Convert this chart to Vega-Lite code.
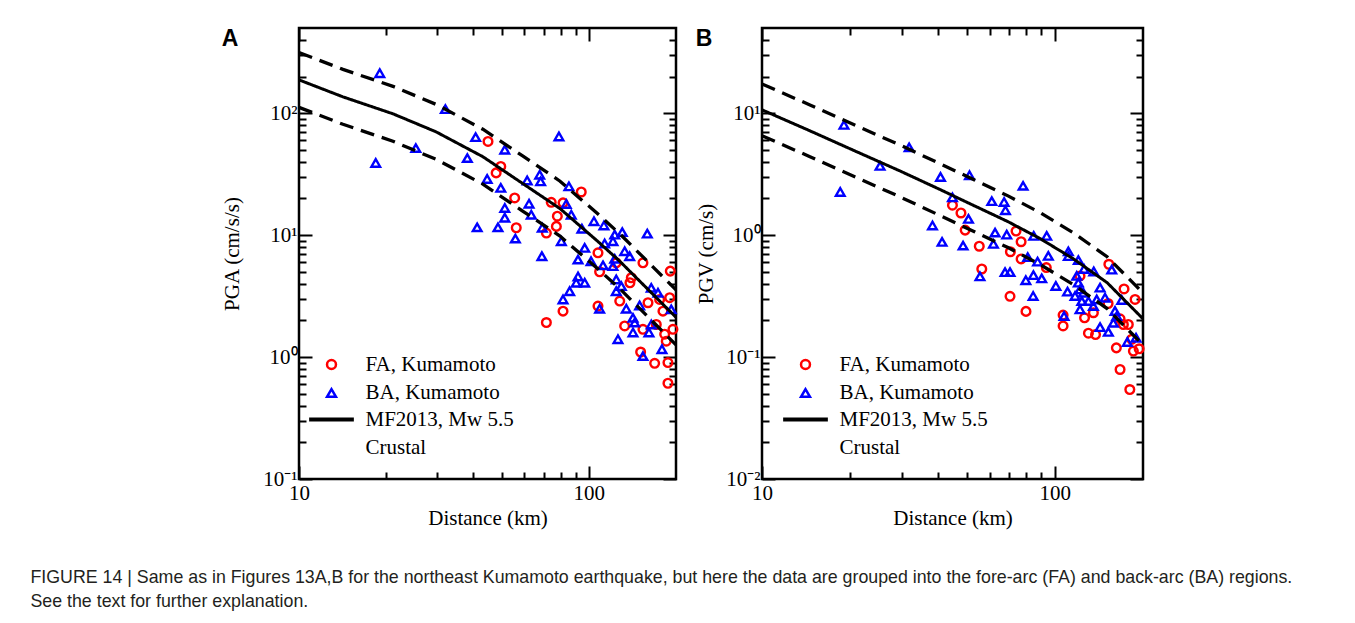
{
  "$schema": "https://vega.github.io/schema/vega-lite/v6.json",
  "background": "white",
  "padding": {"left": 30, "top": 25, "right": 0, "bottom": 0},
  "config": {
    "view": {"stroke": "#000", "strokeWidth": 2.5},
    "axis": {
      "labelFont": "Liberation Serif", "labelFontSize": 21, "labelColor": "#000",
      "titleFont": "Liberation Serif", "titleFontSize": 21, "titleFontWeight": "normal", "titleColor": "#000",
      "domain": false, "tickColor": "#000", "tickWidth": 2,
      "grid": false, "labelFlush": false, "labelOverlap": false, "labelBound": false
    }
  },
  "title": {
    "text": ["FIGURE 14 | Same as in Figures 13A,B for the northeast Kumamoto earthquake, but here the data are grouped into the fore-arc (FA) and back-arc (BA) regions.", "See the text for further explanation."],
    "orient": "bottom", "anchor": "start", "frame": "bounds",
    "font": "Liberation Sans", "fontSize": 17.8, "fontWeight": "normal", "color": "#231f20",
    "lineHeight": 24, "offset": 40, "dx": -190
  },
  "datasets": {
    "ptsA": [
      {"d": 44.9, "v": 58.7, "series": "FA, Kumamoto"},
      {"d": 49.7, "v": 36.6, "series": "FA, Kumamoto"},
      {"d": 47.9, "v": 32.4, "series": "FA, Kumamoto"},
      {"d": 55.5, "v": 20.2, "series": "FA, Kumamoto"},
      {"d": 56.2, "v": 11.5, "series": "FA, Kumamoto"},
      {"d": 74.2, "v": 18.6, "series": "FA, Kumamoto"},
      {"d": 81.5, "v": 18.4, "series": "FA, Kumamoto"},
      {"d": 77.9, "v": 14.3, "series": "FA, Kumamoto"},
      {"d": 77.3, "v": 11.8, "series": "FA, Kumamoto"},
      {"d": 71.4, "v": 10.4, "series": "FA, Kumamoto"},
      {"d": 94.2, "v": 22.6, "series": "FA, Kumamoto"},
      {"d": 107.6, "v": 7.16, "series": "FA, Kumamoto"},
      {"d": 124.4, "v": 5.93, "series": "FA, Kumamoto"},
      {"d": 153.8, "v": 5.93, "series": "FA, Kumamoto"},
      {"d": 191.1, "v": 5.07, "series": "FA, Kumamoto"},
      {"d": 109.0, "v": 5.01, "series": "FA, Kumamoto"},
      {"d": 140.2, "v": 4.47, "series": "FA, Kumamoto"},
      {"d": 138.7, "v": 4.07, "series": "FA, Kumamoto"},
      {"d": 190.2, "v": 3.07, "series": "FA, Kumamoto"},
      {"d": 175.6, "v": 2.97, "series": "FA, Kumamoto"},
      {"d": 160.1, "v": 2.79, "series": "FA, Kumamoto"},
      {"d": 127.9, "v": 2.88, "series": "FA, Kumamoto"},
      {"d": 107.6, "v": 2.62, "series": "FA, Kumamoto"},
      {"d": 81.5, "v": 2.38, "series": "FA, Kumamoto"},
      {"d": 180.3, "v": 2.38, "series": "FA, Kumamoto"},
      {"d": 71.4, "v": 1.92, "series": "FA, Kumamoto"},
      {"d": 133.0, "v": 1.80, "series": "FA, Kumamoto"},
      {"d": 153.8, "v": 1.69, "series": "FA, Kumamoto"},
      {"d": 171.0, "v": 1.85, "series": "FA, Kumamoto"},
      {"d": 195.2, "v": 1.69, "series": "FA, Kumamoto"},
      {"d": 182.8, "v": 1.54, "series": "FA, Kumamoto"},
      {"d": 185.1, "v": 1.35, "series": "FA, Kumamoto"},
      {"d": 151.0, "v": 1.10, "series": "FA, Kumamoto"},
      {"d": 168.8, "v": 0.889, "series": "FA, Kumamoto"},
      {"d": 187.6, "v": 0.902, "series": "FA, Kumamoto"},
      {"d": 187.6, "v": 0.610, "series": "FA, Kumamoto"},
      {"d": 19.0, "v": 213, "series": "BA, Kumamoto"},
      {"d": 18.4, "v": 39.1, "series": "BA, Kumamoto"},
      {"d": 32.0, "v": 108, "series": "BA, Kumamoto"},
      {"d": 25.3, "v": 51.8, "series": "BA, Kumamoto"},
      {"d": 40.7, "v": 63.7, "series": "BA, Kumamoto"},
      {"d": 38.1, "v": 42.9, "series": "BA, Kumamoto"},
      {"d": 51.3, "v": 50.2, "series": "BA, Kumamoto"},
      {"d": 44.6, "v": 28.9, "series": "BA, Kumamoto"},
      {"d": 49.7, "v": 24.4, "series": "BA, Kumamoto"},
      {"d": 78.9, "v": 64.5, "series": "BA, Kumamoto"},
      {"d": 61.3, "v": 28.1, "series": "BA, Kumamoto"},
      {"d": 67.7, "v": 31.3, "series": "BA, Kumamoto"},
      {"d": 68.2, "v": 27.6, "series": "BA, Kumamoto"},
      {"d": 85.4, "v": 25.1, "series": "BA, Kumamoto"},
      {"d": 62.2, "v": 18.1, "series": "BA, Kumamoto"},
      {"d": 51.3, "v": 16.7, "series": "BA, Kumamoto"},
      {"d": 51.3, "v": 13.9, "series": "BA, Kumamoto"},
      {"d": 63.3, "v": 14.7, "series": "BA, Kumamoto"},
      {"d": 83.6, "v": 18.0, "series": "BA, Kumamoto"},
      {"d": 87.0, "v": 14.7, "series": "BA, Kumamoto"},
      {"d": 41.2, "v": 11.6, "series": "BA, Kumamoto"},
      {"d": 48.6, "v": 11.6, "series": "BA, Kumamoto"},
      {"d": 55.8, "v": 9.38, "series": "BA, Kumamoto"},
      {"d": 69.1, "v": 11.5, "series": "BA, Kumamoto"},
      {"d": 80.4, "v": 8.91, "series": "BA, Kumamoto"},
      {"d": 94.7, "v": 11.3, "series": "BA, Kumamoto"},
      {"d": 104.2, "v": 13.0, "series": "BA, Kumamoto"},
      {"d": 112.8, "v": 12.0, "series": "BA, Kumamoto"},
      {"d": 122.9, "v": 10.1, "series": "BA, Kumamoto"},
      {"d": 130.5, "v": 10.6, "series": "BA, Kumamoto"},
      {"d": 159.2, "v": 10.3, "series": "BA, Kumamoto"},
      {"d": 121.2, "v": 8.91, "series": "BA, Kumamoto"},
      {"d": 113.4, "v": 8.54, "series": "BA, Kumamoto"},
      {"d": 96.8, "v": 7.87, "series": "BA, Kumamoto"},
      {"d": 133.0, "v": 7.38, "series": "BA, Kumamoto"},
      {"d": 138.4, "v": 6.72, "series": "BA, Kumamoto"},
      {"d": 68.9, "v": 6.72, "series": "BA, Kumamoto"},
      {"d": 91.8, "v": 6.31, "series": "BA, Kumamoto"},
      {"d": 101.8, "v": 6.11, "series": "BA, Kumamoto"},
      {"d": 122.9, "v": 6.40, "series": "BA, Kumamoto"},
      {"d": 112.0, "v": 5.66, "series": "BA, Kumamoto"},
      {"d": 121.2, "v": 5.57, "series": "BA, Kumamoto"},
      {"d": 91.8, "v": 4.58, "series": "BA, Kumamoto"},
      {"d": 90.5, "v": 4.07, "series": "BA, Kumamoto"},
      {"d": 96.8, "v": 4.07, "series": "BA, Kumamoto"},
      {"d": 85.9, "v": 3.47, "series": "BA, Kumamoto"},
      {"d": 81.5, "v": 2.97, "series": "BA, Kumamoto"},
      {"d": 124.4, "v": 4.33, "series": "BA, Kumamoto"},
      {"d": 129.5, "v": 3.82, "series": "BA, Kumamoto"},
      {"d": 124.4, "v": 3.47, "series": "BA, Kumamoto"},
      {"d": 164.3, "v": 3.70, "series": "BA, Kumamoto"},
      {"d": 173.3, "v": 3.37, "series": "BA, Kumamoto"},
      {"d": 109.0, "v": 2.49, "series": "BA, Kumamoto"},
      {"d": 149.8, "v": 2.65, "series": "BA, Kumamoto"},
      {"d": 134.7, "v": 2.49, "series": "BA, Kumamoto"},
      {"d": 192.6, "v": 2.46, "series": "BA, Kumamoto"},
      {"d": 142.1, "v": 2.10, "series": "BA, Kumamoto"},
      {"d": 144.0, "v": 1.92, "series": "BA, Kumamoto"},
      {"d": 164.3, "v": 1.85, "series": "BA, Kumamoto"},
      {"d": 142.1, "v": 1.59, "series": "BA, Kumamoto"},
      {"d": 161.3, "v": 1.59, "series": "BA, Kumamoto"},
      {"d": 126.1, "v": 1.40, "series": "BA, Kumamoto"},
      {"d": 178.9, "v": 1.16, "series": "BA, Kumamoto"},
      {"d": 153.8, "v": 1.02, "series": "BA, Kumamoto"}
    ],
    "ptsB": [
      {"d": 44.7, "v": 1.76, "series": "FA, Kumamoto"},
      {"d": 47.8, "v": 1.52, "series": "FA, Kumamoto"},
      {"d": 49.4, "v": 1.10, "series": "FA, Kumamoto"},
      {"d": 55.2, "v": 0.811, "series": "FA, Kumamoto"},
      {"d": 56.3, "v": 0.528, "series": "FA, Kumamoto"},
      {"d": 73.7, "v": 1.08, "series": "FA, Kumamoto"},
      {"d": 76.7, "v": 0.883, "series": "FA, Kumamoto"},
      {"d": 70.5, "v": 0.731, "series": "FA, Kumamoto"},
      {"d": 76.7, "v": 0.638, "series": "FA, Kumamoto"},
      {"d": 93.5, "v": 0.542, "series": "FA, Kumamoto"},
      {"d": 152.9, "v": 0.577, "series": "FA, Kumamoto"},
      {"d": 70.3, "v": 0.315, "series": "FA, Kumamoto"},
      {"d": 79.7, "v": 0.237, "series": "FA, Kumamoto"},
      {"d": 106.7, "v": 0.221, "series": "FA, Kumamoto"},
      {"d": 106.7, "v": 0.180, "series": "FA, Kumamoto"},
      {"d": 121.9, "v": 0.463, "series": "FA, Kumamoto"},
      {"d": 126.3, "v": 0.210, "series": "FA, Kumamoto"},
      {"d": 130.2, "v": 0.157, "series": "FA, Kumamoto"},
      {"d": 135.4, "v": 0.231, "series": "FA, Kumamoto"},
      {"d": 137.7, "v": 0.153, "series": "FA, Kumamoto"},
      {"d": 152.0, "v": 0.275, "series": "FA, Kumamoto"},
      {"d": 172.3, "v": 0.362, "series": "FA, Kumamoto"},
      {"d": 187.9, "v": 0.297, "series": "FA, Kumamoto"},
      {"d": 167.0, "v": 0.206, "series": "FA, Kumamoto"},
      {"d": 171.4, "v": 0.185, "series": "FA, Kumamoto"},
      {"d": 178.2, "v": 0.185, "series": "FA, Kumamoto"},
      {"d": 162.2, "v": 0.119, "series": "FA, Kumamoto"},
      {"d": 183.1, "v": 0.140, "series": "FA, Kumamoto"},
      {"d": 185.4, "v": 0.112, "series": "FA, Kumamoto"},
      {"d": 194.0, "v": 0.117, "series": "FA, Kumamoto"},
      {"d": 167.0, "v": 0.0791, "series": "FA, Kumamoto"},
      {"d": 180.3, "v": 0.0542, "series": "FA, Kumamoto"},
      {"d": 19.05, "v": 8.03, "series": "BA, Kumamoto"},
      {"d": 18.5, "v": 2.26, "series": "BA, Kumamoto"},
      {"d": 25.3, "v": 3.70, "series": "BA, Kumamoto"},
      {"d": 31.8, "v": 5.25, "series": "BA, Kumamoto"},
      {"d": 40.7, "v": 3.00, "series": "BA, Kumamoto"},
      {"d": 51.1, "v": 3.10, "series": "BA, Kumamoto"},
      {"d": 77.9, "v": 2.54, "series": "BA, Kumamoto"},
      {"d": 44.7, "v": 2.04, "series": "BA, Kumamoto"},
      {"d": 60.9, "v": 1.90, "series": "BA, Kumamoto"},
      {"d": 67.1, "v": 1.87, "series": "BA, Kumamoto"},
      {"d": 67.8, "v": 1.60, "series": "BA, Kumamoto"},
      {"d": 50.7, "v": 1.36, "series": "BA, Kumamoto"},
      {"d": 38.2, "v": 1.20, "series": "BA, Kumamoto"},
      {"d": 41.2, "v": 0.881, "series": "BA, Kumamoto"},
      {"d": 48.6, "v": 0.822, "series": "BA, Kumamoto"},
      {"d": 62.5, "v": 1.05, "series": "BA, Kumamoto"},
      {"d": 68.5, "v": 1.01, "series": "BA, Kumamoto"},
      {"d": 61.7, "v": 0.848, "series": "BA, Kumamoto"},
      {"d": 84.7, "v": 0.986, "series": "BA, Kumamoto"},
      {"d": 93.8, "v": 0.986, "series": "BA, Kumamoto"},
      {"d": 80.8, "v": 0.660, "series": "BA, Kumamoto"},
      {"d": 87.3, "v": 0.607, "series": "BA, Kumamoto"},
      {"d": 95.0, "v": 0.676, "series": "BA, Kumamoto"},
      {"d": 111.2, "v": 0.736, "series": "BA, Kumamoto"},
      {"d": 111.2, "v": 0.673, "series": "BA, Kumamoto"},
      {"d": 120.3, "v": 0.624, "series": "BA, Kumamoto"},
      {"d": 125.8, "v": 0.528, "series": "BA, Kumamoto"},
      {"d": 135.8, "v": 0.504, "series": "BA, Kumamoto"},
      {"d": 156.4, "v": 0.521, "series": "BA, Kumamoto"},
      {"d": 55.5, "v": 0.459, "series": "BA, Kumamoto"},
      {"d": 67.6, "v": 0.497, "series": "BA, Kumamoto"},
      {"d": 70.3, "v": 0.497, "series": "BA, Kumamoto"},
      {"d": 79.6, "v": 0.427, "series": "BA, Kumamoto"},
      {"d": 84.5, "v": 0.470, "series": "BA, Kumamoto"},
      {"d": 90.2, "v": 0.442, "series": "BA, Kumamoto"},
      {"d": 84.3, "v": 0.317, "series": "BA, Kumamoto"},
      {"d": 100.8, "v": 0.383, "series": "BA, Kumamoto"},
      {"d": 110.5, "v": 0.344, "series": "BA, Kumamoto"},
      {"d": 118.8, "v": 0.463, "series": "BA, Kumamoto"},
      {"d": 120.3, "v": 0.408, "series": "BA, Kumamoto"},
      {"d": 121.9, "v": 0.359, "series": "BA, Kumamoto"},
      {"d": 117.2, "v": 0.317, "series": "BA, Kumamoto"},
      {"d": 125.1, "v": 0.337, "series": "BA, Kumamoto"},
      {"d": 123.6, "v": 0.288, "series": "BA, Kumamoto"},
      {"d": 130.2, "v": 0.288, "series": "BA, Kumamoto"},
      {"d": 135.4, "v": 0.262, "series": "BA, Kumamoto"},
      {"d": 121.9, "v": 0.246, "series": "BA, Kumamoto"},
      {"d": 139.0, "v": 0.297, "series": "BA, Kumamoto"},
      {"d": 142.7, "v": 0.371, "series": "BA, Kumamoto"},
      {"d": 148.4, "v": 0.307, "series": "BA, Kumamoto"},
      {"d": 169.2, "v": 0.294, "series": "BA, Kumamoto"},
      {"d": 160.5, "v": 0.239, "series": "BA, Kumamoto"},
      {"d": 162.7, "v": 0.217, "series": "BA, Kumamoto"},
      {"d": 158.4, "v": 0.191, "series": "BA, Kumamoto"},
      {"d": 142.7, "v": 0.176, "series": "BA, Kumamoto"},
      {"d": 152.3, "v": 0.161, "series": "BA, Kumamoto"},
      {"d": 107.5, "v": 0.217, "series": "BA, Kumamoto"},
      {"d": 176.9, "v": 0.133, "series": "BA, Kumamoto"},
      {"d": 189.3, "v": 0.144, "series": "BA, Kumamoto"}
    ],
    "curveA": [
      {"d": 10, "v": 187.7, "curve": "median"},
      {"d": 14.18, "v": 136.2, "curve": "median"},
      {"d": 21.1, "v": 98.9, "curve": "median"},
      {"d": 29.7, "v": 70.4, "curve": "median"},
      {"d": 43.1, "v": 44.0, "curve": "median"},
      {"d": 59.3, "v": 26.4, "curve": "median"},
      {"d": 79.6, "v": 16.5, "curve": "median"},
      {"d": 107.6, "v": 8.86, "curve": "median"},
      {"d": 128.2, "v": 6.08, "curve": "median"},
      {"d": 160.1, "v": 3.59, "curve": "median"},
      {"d": 200, "v": 2.12, "curve": "median"},
      {"d": 10, "v": 315.3, "curve": "upper"},
      {"d": 14.18, "v": 228.8, "curve": "upper"},
      {"d": 21.1, "v": 166.2, "curve": "upper"},
      {"d": 29.7, "v": 118.3, "curve": "upper"},
      {"d": 43.1, "v": 73.9, "curve": "upper"},
      {"d": 59.3, "v": 44.4, "curve": "upper"},
      {"d": 79.6, "v": 27.7, "curve": "upper"},
      {"d": 107.6, "v": 14.9, "curve": "upper"},
      {"d": 128.2, "v": 10.2, "curve": "upper"},
      {"d": 160.1, "v": 6.03, "curve": "upper"},
      {"d": 200, "v": 3.56, "curve": "upper"},
      {"d": 10, "v": 111.7, "curve": "lower"},
      {"d": 14.18, "v": 81.1, "curve": "lower"},
      {"d": 21.1, "v": 58.9, "curve": "lower"},
      {"d": 29.7, "v": 41.9, "curve": "lower"},
      {"d": 43.1, "v": 26.2, "curve": "lower"},
      {"d": 59.3, "v": 15.7, "curve": "lower"},
      {"d": 79.6, "v": 9.82, "curve": "lower"},
      {"d": 107.6, "v": 5.27, "curve": "lower"},
      {"d": 128.2, "v": 3.62, "curve": "lower"},
      {"d": 160.1, "v": 2.14, "curve": "lower"},
      {"d": 200, "v": 1.26, "curve": "lower"}
    ],
    "curveB": [
      {"d": 10, "v": 10.66, "curve": "median"},
      {"d": 14.58, "v": 7.17, "curve": "median"},
      {"d": 21.1, "v": 4.82, "curve": "median"},
      {"d": 29.6, "v": 3.36, "curve": "median"},
      {"d": 40.5, "v": 2.37, "curve": "median"},
      {"d": 53.4, "v": 1.73, "curve": "median"},
      {"d": 69.2, "v": 1.29, "curve": "median"},
      {"d": 89.0, "v": 0.938, "curve": "median"},
      {"d": 115.4, "v": 0.642, "curve": "median"},
      {"d": 150.8, "v": 0.408, "curve": "median"},
      {"d": 200, "v": 0.206, "curve": "median"},
      {"d": 10, "v": 17.38, "curve": "upper"},
      {"d": 14.58, "v": 11.69, "curve": "upper"},
      {"d": 21.1, "v": 7.86, "curve": "upper"},
      {"d": 29.6, "v": 5.48, "curve": "upper"},
      {"d": 40.5, "v": 3.86, "curve": "upper"},
      {"d": 53.4, "v": 2.82, "curve": "upper"},
      {"d": 69.2, "v": 2.10, "curve": "upper"},
      {"d": 89.0, "v": 1.53, "curve": "upper"},
      {"d": 115.4, "v": 1.05, "curve": "upper"},
      {"d": 150.8, "v": 0.665, "curve": "upper"},
      {"d": 200, "v": 0.336, "curve": "upper"},
      {"d": 10, "v": 6.54, "curve": "lower"},
      {"d": 14.58, "v": 4.40, "curve": "lower"},
      {"d": 21.1, "v": 2.96, "curve": "lower"},
      {"d": 29.6, "v": 2.06, "curve": "lower"},
      {"d": 40.5, "v": 1.45, "curve": "lower"},
      {"d": 53.4, "v": 1.06, "curve": "lower"},
      {"d": 69.2, "v": 0.791, "curve": "lower"},
      {"d": 89.0, "v": 0.575, "curve": "lower"},
      {"d": 115.4, "v": 0.394, "curve": "lower"},
      {"d": 150.8, "v": 0.250, "curve": "lower"},
      {"d": 200, "v": 0.126, "curve": "lower"}
    ]
  },
  "spacing": 10,
  "resolve": {
    "scale": {"x": "independent", "y": "independent", "color": "independent", "shape": "independent", "strokeDash": "independent"},
    "legend": {"color": "independent", "shape": "independent", "strokeDash": "independent"}
  },
  "hconcat": [
    {
      "width": 377, "height": 451,
      "title": {"text": "A", "anchor": "start", "frame": "bounds", "font": "Liberation Sans", "fontSize": 23, "fontWeight": "bold", "color": "#000", "offset": 0, "dy": 24},
      "resolve": {"axis": {"x": "independent", "y": "independent"}},
      "layer": [
        {
          "data": {"name": "ptsA"},
          "mark": {"type": "point", "filled": false, "strokeWidth": 2.4, "size": 75, "opacity": 1},
          "encoding": {
            "x": {"field": "d", "type": "quantitative", "scale": {"type": "log", "domain": [10, 200], "nice": false},
              "axis": {"orient": "bottom", "values": [10, 100], "offset": -13, "tickSize": 13, "labelPadding": 3, "labelExpr": "datum.value == 10 ? '10' : '100'", "title": "Distance (km)", "titlePadding": 4}},
            "y": {"field": "v", "type": "quantitative", "scale": {"type": "log", "domain": [0.1, 500], "nice": false},
              "axis": {"orient": "left", "values": [0.1, 1, 10, 100], "offset": -13, "tickSize": 13, "labelPadding": 2, "labelExpr": "datum.value == 0.1 ? '10⁻¹' : datum.value == 1 ? '10⁰' : datum.value == 10 ? '10¹' : '10²'", "title": "PGA (cm/s/s)", "titlePadding": 20}},
            "color": {"field": "series", "type": "nominal", "scale": {"domain": ["FA, Kumamoto", "BA, Kumamoto"], "range": ["#ff0000", "#0000ff"]},
              "legend": {"orient": "none", "legendX": 22, "legendY": 326, "title": null, "symbolSize": 80, "symbolStrokeWidth": 2.5, "labelOffset": 23.5, "rowPadding": 6.5, "padding": 0, "labelFont": "Liberation Serif", "labelFontSize": 21, "labelColor": "#000", "labelLimit": 400}},
            "shape": {"field": "series", "type": "nominal", "scale": {"domain": ["FA, Kumamoto", "BA, Kumamoto"], "range": ["circle", "triangle-up"]},
              "legend": {"orient": "none", "legendX": 22, "legendY": 326, "title": null, "symbolSize": 80, "symbolStrokeWidth": 2.5, "labelOffset": 23.5, "rowPadding": 6.5, "padding": 0, "labelFont": "Liberation Serif", "labelFontSize": 21, "labelColor": "#000", "labelLimit": 400}}
          }
        },
        {
          "data": {"name": "curveA"},
          "transform": [{"filter": "datum.curve == 'median'"}],
          "mark": {"type": "line", "color": "#000", "strokeWidth": 3},
          "encoding": {
            "x": {"field": "d", "type": "quantitative", "axis": {"orient": "top", "values": [10, 100], "offset": -13, "tickSize": 13, "labels": false, "title": null}},
            "y": {"field": "v", "type": "quantitative", "axis": {"orient": "right", "values": [0.1, 1, 10, 100], "offset": -13, "tickSize": 13, "labels": false, "title": null}},
            "strokeDash": {"field": "curve", "type": "nominal", "scale": {"domain": ["median", "note"], "range": [[1, 0], [0, 1000]]},
              "legend": {"orient": "none", "legendX": 8, "legendY": 381, "title": null, "symbolType": "stroke", "symbolSize": 2000, "symbolStrokeWidth": 4, "symbolStrokeColor": "#000", "clipHeight": 21, "labelOffset": 9.5, "rowPadding": 6.5, "padding": 0, "labelFont": "Liberation Serif", "labelFontSize": 21, "labelColor": "#000", "labelLimit": 400, "labelExpr": "datum.value == 'median' ? 'MF2013, Mw 5.5' : 'Crustal'"}}
          }
        },
        {
          "data": {"name": "curveA"},
          "transform": [{"filter": "datum.curve == 'upper'"}],
          "mark": {"type": "line", "color": "#000", "strokeWidth": 3.3, "strokeDash": [14, 8]},
          "encoding": {
            "x": {"field": "d", "type": "quantitative", "axis": {"orient": "bottom", "values": [20, 30, 40, 50, 60, 70, 80, 90], "offset": -7, "tickSize": 7, "labels": false, "title": null}},
            "y": {"field": "v", "type": "quantitative", "axis": {"orient": "left", "values": [0.2, 0.3, 0.4, 0.5, 0.6, 0.7, 0.8, 0.9, 2, 3, 4, 5, 6, 7, 8, 9, 20, 30, 40, 50, 60, 70, 80, 90, 200, 300, 400], "offset": -7, "tickSize": 7, "labels": false, "title": null}}
          }
        },
        {
          "data": {"name": "curveA"},
          "transform": [{"filter": "datum.curve == 'lower'"}],
          "mark": {"type": "line", "color": "#000", "strokeWidth": 3.3, "strokeDash": [14, 8]},
          "encoding": {
            "x": {"field": "d", "type": "quantitative", "axis": {"orient": "top", "values": [20, 30, 40, 50, 60, 70, 80, 90], "offset": -7, "tickSize": 7, "labels": false, "title": null}},
            "y": {"field": "v", "type": "quantitative", "axis": {"orient": "right", "values": [0.2, 0.3, 0.4, 0.5, 0.6, 0.7, 0.8, 0.9, 2, 3, 4, 5, 6, 7, 8, 9, 20, 30, 40, 50, 60, 70, 80, 90, 200, 300, 400], "offset": -7, "tickSize": 7, "labels": false, "title": null}}
          }
        }
      ]
    },
    {
      "width": 381, "height": 451,
      "title": {"text": "B", "anchor": "start", "frame": "bounds", "font": "Liberation Sans", "fontSize": 23, "fontWeight": "bold", "color": "#000", "offset": 0, "dy": 24},
      "resolve": {"axis": {"x": "independent", "y": "independent"}},
      "layer": [
        {
          "data": {"name": "ptsB"},
          "mark": {"type": "point", "filled": false, "strokeWidth": 2.4, "size": 75, "opacity": 1},
          "encoding": {
            "x": {"field": "d", "type": "quantitative", "scale": {"type": "log", "domain": [10, 200], "nice": false},
              "axis": {"orient": "bottom", "values": [10, 100], "offset": -13, "tickSize": 13, "labelPadding": 3, "labelExpr": "datum.value == 10 ? '10' : '100'", "title": "Distance (km)", "titlePadding": 4}},
            "y": {"field": "v", "type": "quantitative", "scale": {"type": "log", "domain": [0.01, 50], "nice": false},
              "axis": {"orient": "left", "values": [0.01, 0.1, 1, 10], "offset": -13, "tickSize": 13, "labelPadding": 2, "labelExpr": "datum.value == 0.01 ? '10⁻²' : datum.value == 0.1 ? '10⁻¹' : datum.value == 1 ? '10⁰' : '10¹'", "title": "PGV (cm/s)", "titlePadding": 9}},
            "color": {"field": "series", "type": "nominal", "scale": {"domain": ["FA, Kumamoto", "BA, Kumamoto"], "range": ["#ff0000", "#0000ff"]},
              "legend": {"orient": "none", "legendX": 33, "legendY": 326, "title": null, "symbolSize": 80, "symbolStrokeWidth": 2.5, "labelOffset": 23.5, "rowPadding": 6.5, "padding": 0, "labelFont": "Liberation Serif", "labelFontSize": 21, "labelColor": "#000", "labelLimit": 400}},
            "shape": {"field": "series", "type": "nominal", "scale": {"domain": ["FA, Kumamoto", "BA, Kumamoto"], "range": ["circle", "triangle-up"]},
              "legend": {"orient": "none", "legendX": 33, "legendY": 326, "title": null, "symbolSize": 80, "symbolStrokeWidth": 2.5, "labelOffset": 23.5, "rowPadding": 6.5, "padding": 0, "labelFont": "Liberation Serif", "labelFontSize": 21, "labelColor": "#000", "labelLimit": 400}}
          }
        },
        {
          "data": {"name": "curveB"},
          "transform": [{"filter": "datum.curve == 'median'"}],
          "mark": {"type": "line", "color": "#000", "strokeWidth": 3},
          "encoding": {
            "x": {"field": "d", "type": "quantitative", "axis": {"orient": "top", "values": [10, 100], "offset": -13, "tickSize": 13, "labels": false, "title": null}},
            "y": {"field": "v", "type": "quantitative", "axis": {"orient": "right", "values": [0.01, 0.1, 1, 10], "offset": -13, "tickSize": 13, "labels": false, "title": null}},
            "strokeDash": {"field": "curve", "type": "nominal", "scale": {"domain": ["median", "note"], "range": [[1, 0], [0, 1000]]},
              "legend": {"orient": "none", "legendX": 19, "legendY": 381, "title": null, "symbolType": "stroke", "symbolSize": 2000, "symbolStrokeWidth": 4, "symbolStrokeColor": "#000", "clipHeight": 21, "labelOffset": 9.5, "rowPadding": 6.5, "padding": 0, "labelFont": "Liberation Serif", "labelFontSize": 21, "labelColor": "#000", "labelLimit": 400, "labelExpr": "datum.value == 'median' ? 'MF2013, Mw 5.5' : 'Crustal'"}}
          }
        },
        {
          "data": {"name": "curveB"},
          "transform": [{"filter": "datum.curve == 'upper'"}],
          "mark": {"type": "line", "color": "#000", "strokeWidth": 3.3, "strokeDash": [14, 8]},
          "encoding": {
            "x": {"field": "d", "type": "quantitative", "axis": {"orient": "bottom", "values": [20, 30, 40, 50, 60, 70, 80, 90], "offset": -7, "tickSize": 7, "labels": false, "title": null}},
            "y": {"field": "v", "type": "quantitative", "axis": {"orient": "left", "values": [0.02, 0.03, 0.04, 0.05, 0.06, 0.07, 0.08, 0.09, 0.2, 0.3, 0.4, 0.5, 0.6, 0.7, 0.8, 0.9, 2, 3, 4, 5, 6, 7, 8, 9, 20, 30, 40], "offset": -7, "tickSize": 7, "labels": false, "title": null}}
          }
        },
        {
          "data": {"name": "curveB"},
          "transform": [{"filter": "datum.curve == 'lower'"}],
          "mark": {"type": "line", "color": "#000", "strokeWidth": 3.3, "strokeDash": [14, 8]},
          "encoding": {
            "x": {"field": "d", "type": "quantitative", "axis": {"orient": "top", "values": [20, 30, 40, 50, 60, 70, 80, 90], "offset": -7, "tickSize": 7, "labels": false, "title": null}},
            "y": {"field": "v", "type": "quantitative", "axis": {"orient": "right", "values": [0.02, 0.03, 0.04, 0.05, 0.06, 0.07, 0.08, 0.09, 0.2, 0.3, 0.4, 0.5, 0.6, 0.7, 0.8, 0.9, 2, 3, 4, 5, 6, 7, 8, 9, 20, 30, 40], "offset": -7, "tickSize": 7, "labels": false, "title": null}}
          }
        }
      ]
    }
  ]
}
